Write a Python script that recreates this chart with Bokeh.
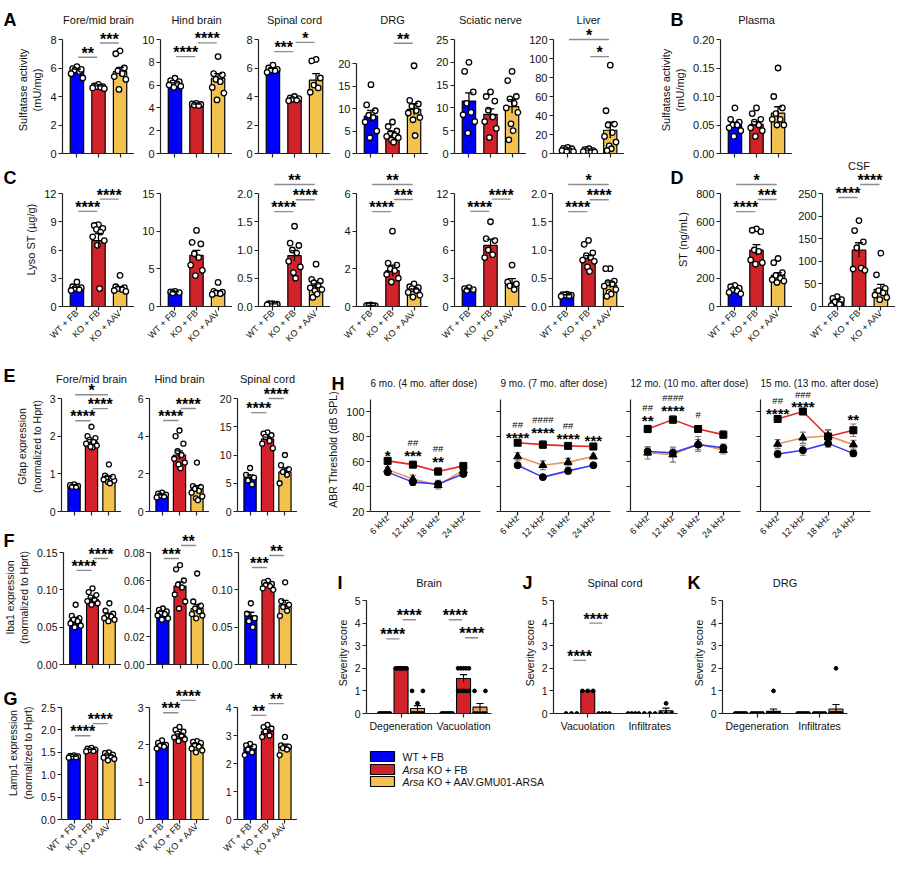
import math
from bokeh.plotting import figure
from bokeh.layouts import row, column
from bokeh.models import Range1d, FixedTicker, Spacer, GridBox
from bokeh.core.properties import value
from bokeh.embed import file_html
from bokeh.resources import INLINE

FONT = "Liberation Sans"
C_WT = "#0000FF"
C_KO = "#D2232A"
C_AAV = "#F2C14E"
C_AAV_SEV = "#E9A064"
C_LINE_WT = "#3A3AF4"
C_LINE_KO = "#E2262B"
C_LINE_AAV = "#E7965C"
INK = "#111111"
BRACKET = "#8c8c8c"

groups = ["WT + FB", "KO + FB", "KO + AAV"]
freq_labels = ["6 kHz", "12 kHz", "18 kHz", "24 kHz"]

# ---------------- A / B : Sulfatase activity (mU/mg) ----------------
sulf_titles = ["Fore/mid brain", "Hind brain", "Spinal cord", "DRG", "Sciatic nerve", "Liver"]
sulf_fore_mean = [5.8, 4.7, 5.75]
sulf_fore_sem = [0.13, 0.05, 0.3]
sulf_fore_pts = [[6.1, 5.95, 5.85, 5.75, 5.6, 5.3, 5.9],
                 [4.85, 4.75, 4.7, 4.7, 4.65, 4.6, 4.55],
                 [7.2, 7.0, 6.0, 5.8, 5.6, 5.4, 5.2, 4.5]]
sulf_fore_sig = [(0, 1, 6.75, "**"), (1, 2, 7.75, "***")]
sulf_fore_ticks = [0, 2, 4, 6, 8]
sulf_fore_tlab = ["0", "2", "4", "6", "8"]

sulf_hind_mean = [6.1, 4.3, 6.6]
sulf_hind_sem = [0.1, 0.04, 0.4]
sulf_hind_pts = [[6.6, 6.4, 6.3, 6.2, 6.1, 6.0, 5.9, 5.8],
                 [4.4, 4.35, 4.3, 4.25, 4.2],
                 [8.5, 7.0, 6.9, 6.5, 6.3, 5.8, 5.3, 4.7]]
sulf_hind_sig = [(0, 1, 8.5, "****"), (1, 2, 9.7, "****")]
sulf_hind_ticks = [0, 2, 4, 6, 8, 10]
sulf_hind_tlab = ["0", "2", "4", "6", "8", "10"]

sulf_spinal_mean = [5.9, 3.85, 5.15]
sulf_spinal_sem = [0.07, 0.05, 0.45]
sulf_spinal_pts = [[6.2, 6.0, 5.9, 5.85, 5.8, 5.7],
                   [4.0, 3.9, 3.85, 3.8, 3.75, 3.7],
                   [6.6, 6.5, 5.3, 4.8, 4.6, 4.3]]
sulf_spinal_sig = [(0, 1, 7.15, "***"), (1, 2, 7.8, "*")]
sulf_spinal_ticks = [0, 2, 4, 6, 8]
sulf_spinal_tlab = ["0", "2", "4", "6", "8"]

sulf_drg_mean = [8.3, 4.3, 9.8]
sulf_drg_sem = [1.3, 0.55, 1.3]
sulf_drg_pts = [[15.3, 10.8, 9.5, 8.5, 7.0, 5.0, 3.5, 8.0],
                [7.0, 6.0, 5.0, 4.5, 4.0, 3.5, 3.0, 2.5, 3.8],
                [19.5, 11.8, 11.0, 10.5, 9.5, 9.0, 8.0, 7.5, 4.0]]
sulf_drg_sig = [(1, 2, 24.5, "**")]
sulf_drg_ticks = [0, 5, 10, 15, 20]
sulf_drg_tlab = ["0", "5", "10", "15", "20"]

sulf_sciatic_mean = [11.5, 8.6, 10.3]
sulf_sciatic_sem = [1.8, 1.2, 1.5]
sulf_sciatic_pts = [[20, 18, 13.5, 11.0, 9.0, 7.0, 4.5, 8.5],
                    [13.5, 12.5, 11.5, 9.5, 8.0, 7.0, 5.5, 3.5],
                    [18, 16, 12.5, 12.0, 11.0, 10.0, 9.0, 6.5, 5.0, 3.0]]
sulf_sciatic_sig = []
sulf_sciatic_ticks = [0, 5, 10, 15, 20, 25]
sulf_sciatic_tlab = ["0", "5", "10", "15", "20", "25"]

sulf_liver_mean = [4.0, 3.0, 24.5]
sulf_liver_sem = [0.7, 0.6, 8.5]
sulf_liver_pts = [[6.5, 5.5, 5, 4, 3, 3, 2, 2],
                  [5, 4, 3, 3, 2, 2, 1.5],
                  [93, 45, 31, 30, 22, 18, 12, 8, 5, 3]]
sulf_liver_sig = [(0, 2, 120, "*"), (1, 2, 102, "*")]
sulf_liver_ticks = [0, 20, 40, 60, 80, 100, 120]
sulf_liver_tlab = ["0", "20", "40", "60", "80", "100", "120"]

plasma_mean = [0.05, 0.051, 0.071]
plasma_sem = [0.005, 0.005, 0.011]
plasma_pts = [[0.08, 0.06, 0.055, 0.05, 0.045, 0.04, 0.03, 0.05],
              [0.08, 0.07, 0.06, 0.05, 0.045, 0.04, 0.03, 0.055],
              [0.15, 0.10, 0.08, 0.07, 0.06, 0.05, 0.05, 0.06]]
plasma_ticks = [0, 0.05, 0.10, 0.15, 0.20]
plasma_tlab = ["0.00", "0.05", "0.10", "0.15", "0.20"]

# ---------------- C / D : Lyso ST (ug/g), ST (ng/mL) ----------------
lyso1_mean = [1.9, 7.0, 1.9]
lyso1_sem = [0.13, 0.75, 0.2]
lyso1_pts = [[2.6, 2.1, 2.0, 1.9, 1.8, 1.7],
             [8.7, 8.6, 8.3, 8.2, 7.9, 7.4, 7.0, 6.5, 1.9],
             [3.3, 2.1, 2.0, 1.9, 1.8, 1.7, 1.6]]
lyso1_sig = [(0, 1, 10.1, "****"), (1, 2, 11.4, "****")]
lyso1_ticks = [0, 3, 6, 9, 12]
lyso1_tlab = ["0", "3", "6", "9", "12"]

lyso2_mean = [1.9, 6.8, 1.9]
lyso2_sem = [0.06, 0.65, 0.2]
lyso2_pts = [[2.0, 1.95, 1.85, 1.8],
             [10.1, 8.5, 8.3, 7.0, 6.5, 5.5, 4.8, 4.1],
             [3.2, 2.0, 1.9, 1.8, 1.7, 1.6]]
lyso2_sig = []
lyso2_ticks = [0, 5, 10, 15]
lyso2_tlab = ["0", "5", "10", "15"]

lyso3_mean = [0.04, 0.9, 0.35]
lyso3_sem = [0.005, 0.09, 0.05]
lyso3_pts = [[0.05, 0.05, 0.04, 0.04, 0.03, 0.03],
             [1.42, 1.12, 1.08, 1.0, 0.95, 0.8, 0.7, 0.6, 0.5],
             [0.75, 0.48, 0.45, 0.42, 0.38, 0.33, 0.3, 0.28, 0.22, 0.16]]
lyso3_sig = [(0, 1, 1.68, "****"), (1, 2, 1.89, "****"), (0, 2, 2.16, "**")]
lyso3_ticks = [0, 0.5, 1.0, 1.5, 2.0]
lyso3_tlab = ["0.0", "0.5", "1.0", "1.5", "2.0"]

lyso4_mean = [0.05, 1.9, 0.85]
lyso4_sem = [0.01, 0.3, 0.08]
lyso4_pts = [[0.08, 0.06, 0.05, 0.04, 0.03],
             [4.0, 2.3, 2.2, 2.0, 1.9, 1.7, 1.5, 1.3],
             [1.2, 1.05, 1.0, 0.95, 0.85, 0.75, 0.6, 0.5]]
lyso4_sig = [(0, 1, 5.04, "****"), (1, 2, 5.68, "***"), (0, 2, 6.48, "**")]
lyso4_ticks = [0, 2, 4, 6]
lyso4_tlab = ["0", "2", "4", "6"]

lyso5_mean = [1.8, 6.5, 2.5]
lyso5_sem = [0.07, 0.65, 0.45]
lyso5_pts = [[2.0, 1.9, 1.8, 1.7],
             [9.0, 7.2, 7.0, 6.0, 5.5, 5.2],
             [4.4, 2.6, 2.4, 2.2, 1.8]]
lyso5_sig = [(0, 1, 10.1, "****"), (1, 2, 11.4, "****")]
lyso5_ticks = [0, 3, 6, 9, 12]
lyso5_tlab = ["0", "3", "6", "9", "12"]

lyso6_mean = [0.2, 0.85, 0.38]
lyso6_sem = [0.008, 0.05, 0.05]
lyso6_pts = [[0.22, 0.21, 0.2, 0.2, 0.19, 0.18],
             [1.17, 1.1, 0.95, 0.9, 0.87, 0.82, 0.8, 0.7, 0.62],
             [0.67, 0.67, 0.45, 0.42, 0.4, 0.36, 0.3, 0.25, 0.22, 0.18]]
lyso6_sig = [(0, 1, 1.68, "****"), (1, 2, 1.89, "****"), (0, 2, 2.16, "*")]
lyso6_ticks = [0, 0.5, 1.0, 1.5, 2.0]
lyso6_tlab = ["0.0", "0.5", "1.0", "1.5", "2.0"]

st_plasma_mean = [120, 400, 220]
st_plasma_sem = [10, 38, 20]
st_plasma_pts = [[150, 140, 130, 120, 110, 100, 90],
                 [550, 540, 530, 400, 390, 330, 310, 300],
                 [340, 310, 240, 220, 200, 190, 180, 170]]
st_plasma_sig = [(0, 1, 672, "****"), (1, 2, 757, "***"), (0, 2, 864, "*")]
st_plasma_ticks = [0, 200, 400, 600, 800]
st_plasma_tlab = ["0", "200", "400", "600", "800"]

st_csf_mean = [12, 125, 38]
st_csf_sem = [4, 16, 11]
st_csf_pts = [[22, 18, 15, 10, 5, 2],
              [190, 168, 143, 130, 85, 83, 80],
              [118, 70, 40, 35, 30, 25, 20, 15]]
st_csf_sig = [(0, 1, 241, "****"), (1, 2, 270, "****")]
st_csf_ticks = [0, 50, 100, 150, 200, 250]
st_csf_tlab = ["0", "50", "100", "150", "200", "250"]

# ---------------- E : Gfap ----------------
tissue_titles = ["Fore/mid brain", "Hind brain", "Spinal cord"]
gfap1_mean = [0.68, 1.85, 0.88]
gfap1_sem = [0.02, 0.06, 0.05]
gfap1_pts = [[0.72, 0.7, 0.68, 0.66, 0.65],
             [2.25, 2.0, 1.95, 1.9, 1.85, 1.8, 1.75, 1.7, 1.72],
             [1.25, 0.95, 0.9, 0.88, 0.85, 0.82, 0.78, 0.75, 0.92]]
gfap1_sig = [(0, 1, 2.41, "****"), (1, 2, 2.73, "****"), (0, 2, 3.1, "*")]
gfap1_ticks = [0, 1, 2, 3]
gfap1_tlab = ["0", "1", "2", "3"]

gfap2_mean = [0.85, 3.0, 1.2]
gfap2_sem = [0.04, 0.22, 0.17]
gfap2_pts = [[1.0, 0.95, 0.9, 0.85, 0.8, 0.75],
             [4.3, 4.0, 3.6, 3.2, 3.0, 2.8, 2.6, 2.3, 2.5],
             [2.6, 1.35, 1.3, 1.2, 1.1, 1.0, 0.8, 0.7, 0.6]]
gfap2_sig = [(0, 1, 4.83, "****"), (1, 2, 5.47, "****")]
gfap2_ticks = [0, 2, 4, 6]
gfap2_tlab = ["0", "2", "4", "6"]

gfap3_mean = [6.0, 12.8, 7.0]
gfap3_sem = [0.5, 0.35, 0.7]
gfap3_pts = [[7.7, 6.5, 6.0, 5.5, 4.8],
             [14.0, 13.8, 13.5, 13.2, 12.5, 12.0, 11.2],
             [10.0, 8.2, 7.5, 7.0, 6.5, 5.0]]
gfap3_sig = [(0, 1, 17.5, "****"), (1, 2, 20.0, "****")]
gfap3_ticks = [0, 5, 10, 15, 20]
gfap3_tlab = ["0", "5", "10", "15", "20"]

# ---------------- F : Iba1 ----------------
iba1_mean = [0.06, 0.087, 0.066]
iba1_sem = [0.003, 0.002, 0.002]
iba1_pts = [[0.08, 0.065, 0.062, 0.06, 0.058, 0.055, 0.052, 0.05],
            [0.102, 0.097, 0.093, 0.09, 0.087, 0.085, 0.082, 0.08],
            [0.082, 0.072, 0.068, 0.066, 0.064, 0.062, 0.06, 0.058]]
iba1_sig = [(0, 1, 0.126, "****"), (1, 2, 0.142, "****")]
iba1_ticks = [0, 0.05, 0.10, 0.15]
iba1_tlab = ["0.00", "0.05", "0.10", "0.15"]

iba2_mean = [0.037, 0.056, 0.04]
iba2_sem = [0.001, 0.003, 0.003]
iba2_pts = [[0.04, 0.039, 0.038, 0.037, 0.036, 0.035, 0.033, 0.032],
            [0.071, 0.068, 0.060, 0.057, 0.055, 0.05, 0.045, 0.04],
            [0.065, 0.045, 0.042, 0.04, 0.038, 0.036, 0.035, 0.033]]
iba2_sig = [(0, 1, 0.0757, "***"), (1, 2, 0.085, "**")]
iba2_ticks = [0, 0.02, 0.04, 0.06, 0.08]
iba2_tlab = ["0.00", "0.02", "0.04", "0.06", "0.08"]

iba3_mean = [0.065, 0.107, 0.08]
iba3_sem = [0.005, 0.002, 0.006]
iba3_pts = [[0.082, 0.068, 0.062, 0.058, 0.05],
            [0.112, 0.11, 0.108, 0.107, 0.105, 0.102, 0.1],
            [0.11, 0.085, 0.08, 0.077, 0.072, 0.065]]
iba3_sig = [(0, 1, 0.13, "***"), (1, 2, 0.146, "**")]
iba3_ticks = [0, 0.05, 0.10, 0.15]
iba3_tlab = ["0.00", "0.05", "0.10", "0.15"]

# ---------------- G : Lamp1 ----------------
lamp1_mean = [1.4, 1.55, 1.42]
lamp1_sem = [0.01, 0.015, 0.02]
lamp1_pts = [[1.43, 1.42, 1.41, 1.40, 1.39, 1.38],
             [1.6, 1.58, 1.56, 1.55, 1.53, 1.52],
             [1.5, 1.48, 1.45, 1.43, 1.4, 1.38, 1.35, 1.32]]
lamp1_sig = [(0, 1, 1.87, "****"), (1, 2, 2.14, "****")]
lamp1_ticks = [0, 0.5, 1.0, 1.5, 2.0, 2.5]
lamp1_tlab = ["0.0", "0.5", "1.0", "1.5", "2.0", "2.5"]

lamp2_mean = [2.0, 2.25, 2.0]
lamp2_sem = [0.03, 0.04, 0.03]
lamp2_pts = [[2.12, 2.05, 2.0, 1.98, 1.95, 1.9],
             [2.48, 2.4, 2.35, 2.3, 2.25, 2.2, 2.15, 2.1],
             [2.1, 2.08, 2.05, 2.0, 1.95, 1.9, 1.85, 1.8]]
lamp2_sig = [(0, 1, 2.86, "***"), (1, 2, 3.19, "****")]
lamp2_ticks = [0, 1, 2, 3]
lamp2_tlab = ["0", "1", "2", "3"]

lamp3_mean = [2.55, 3.15, 2.6]
lamp3_sem = [0.07, 0.07, 0.09]
lamp3_pts = [[2.7, 2.65, 2.6, 2.5, 2.4, 2.3],
             [3.38, 3.3, 3.25, 3.15, 3.0, 2.95],
             [2.95, 2.65, 2.6, 2.55, 2.5, 2.3]]
lamp3_sig = [(0, 1, 3.72, "**"), (1, 2, 4.14, "**")]
lamp3_ticks = [0, 1, 2, 3, 4]
lamp3_tlab = ["0", "1", "2", "3", "4"]

# ---------------- H : ABR threshold (dB SPL) ----------------
abr_titles = ["6 mo. (4 mo. after dose)", "9 mo. (7 mo. after dose)",
              "12 mo. (10 mo. after dose)", "15 mo. (13 mo. after dose)"]
abr_wt = [[51.5, 43.5, 42, 50], [57, 47.5, 52.5, 57], [68, 67, 73.5, 71], [66, 69, 74.5, 66.5]]
abr_wt_sem = [[2, 2.5, 3, 1.5], [1.5, 1.5, 2.5, 1], [3, 3, 4, 3], [3, 4, 3, 2.5]]
abr_ko = [[60.5, 57.5, 52, 56.5], [75, 73.5, 72.5, 72], [86, 93.5, 86, 81.5], [94, 100, 80, 85]]
abr_ko_sem = [[2, 2, 3, 2], [1.5, 3, 2, 1], [3, 3, 2.5, 3], [2, 0.5, 5, 5]]
abr_aav = [[53.5, 46, 41, 53], [64, 57, 59.5, 64], [67, 65.5, 74, 69], [74, 79, 80.5, 73.5]]
abr_aav_sem = [[2, 3, 3, 2], [3, 3.5, 3, 2], [5, 6, 6, 3], [3.5, 4.5, 5, 3.5]]
abr_sig = [
    [(0, 67.5, "*"), (1, 75.5, "##"), (1, 67.5, "***"), (2, 70.5, "##"), (2, 62.5, "**")],
    [(0, 90, "##"), (0, 81.5, "****"), (1, 93.5, "####"), (1, 85.5, "****"), (2, 89, "##"),
     (2, 81, "****"), (3, 79.5, "***")],
    [(0, 103.5, "##"), (0, 95.5, "**"), (1, 111, "####"), (1, 103, "****"), (2, 97.5, "#")],
    [(0, 109, "##"), (0, 101, "****"), (1, 114, "###"), (1, 106.5, "****"), (3, 96, "**")],
]
abr_ticks = [20, 40, 60, 80, 100]
abr_tlab = ["20", "40", "60", "80", "100"]

# ---------------- I / J / K : Severity score ----------------
sev_titles = ["Brain", "Spinal cord", "DRG"]
sev_ticks = [0, 1, 2, 3, 4, 5]
sev_tlab = ["0", "1", "2", "3", "4", "5"]
brain_groups = ["Degeneration", "Vacuolation"]
brain_mean = [0, 2.0, 0.22, 0, 1.55, 0.28]
brain_sem = [0, 0, 0.13, 0, 0.17, 0.16]
brain_pts = [[0] * 8, [2] * 8, [1, 1, 0.45, 0, 0, 0, 0, 0, 0],
             [0] * 8, [2, 2, 2, 2, 2, 1, 1, 1, 1, 1], [1, 1, 0, 0, 0, 0, 0]]
brain_sig = [(0, 1, 3.3, "****"), (1, 2, 4.15, "****"), (3, 4, 4.15, "****"), (4, 5, 3.35, "****")]

cord_groups = ["Vacuolation", "Infiltrates"]
cord_mean = [0, 1.0, 0, 0, 0, 0.12]
cord_sem = [0, 0, 0, 0, 0, 0.12]
cord_pts = [[0] * 3, [1] * 3, [0] * 4, [0] * 4, [0] * 3, [0.45, 0, 0, 0]]
cord_sig = [(0, 1, 2.35, "****"), (1, 2, 4.0, "****")]

drg_groups = ["Degeneration", "Infiltrates"]
drg_mean = [0, 0, 0.1, 0, 0, 0.2]
drg_sem = [0, 0, 0.1, 0, 0, 0.2]
drg_pts = [[0] * 7, [0] * 6, [1, 0, 0, 0, 0, 0, 0, 0, 0, 0],
           [0] * 7, [0] * 6, [2, 0, 0, 0, 0, 0, 0, 0, 0, 0]]
drg_sig = []

legend_italic = ["", "Arsa", "Arsa"]
legend_text = ["WT + FB", "KO + FB", "KO + AAV.GMU01-ARSA"]
panel_letters = ["A", "B", "C", "D", "E", "F", "G", "H", "I", "J", "K"]


# ======================================================================
def make_fig(w, h, mbl, mbr, mbt, mbb, xr, yr):
    p = figure(width=w, height=h, x_range=Range1d(xr[0], xr[1]), y_range=Range1d(yr[0], yr[1]),
               output_backend="svg", toolbar_location=None, tools="",
               min_border_left=mbl, min_border_right=mbr, min_border_top=mbt, min_border_bottom=mbb)
    p.xgrid.visible = False
    p.ygrid.visible = False
    p.outline_line_color = None
    p.background_fill_color = "white"
    p.border_fill_color = "white"
    return p


def style_axis(ax, fs):
    ax.axis_line_color = "#222222"
    ax.axis_line_width = 1.2
    ax.major_tick_line_color = "#222222"
    ax.major_tick_line_width = 1.2
    ax.major_tick_in = 0
    ax.major_tick_out = 4
    ax.minor_tick_line_color = None
    ax.major_label_text_font = FONT
    ax.major_label_text_font_size = fs
    ax.major_label_text_color = INK
    ax.major_label_standoff = 2
    ax.axis_label_text_font = FONT
    ax.axis_label_text_font_style = "normal"
    ax.axis_label_text_font_size = fs
    ax.axis_label_text_color = INK
    ax.axis_label_standoff = 4


def hide_labels(ax, ticks):
    ax.major_label_overrides = {t: "" for t in ticks}
    ax.major_label_text_font_size = "0px"
    ax.major_label_standoff = 0


def spread(vals):
    pattern = [0.0, -0.2, 0.2, -0.1, 0.1, -0.27, 0.27, -0.05, 0.05, -0.15, 0.15]
    order = sorted(range(len(vals)), key=lambda i: -vals[i])
    offs = [0.0] * len(vals)
    for r, i in enumerate(order):
        offs[i] = pattern[r % len(pattern)]
    return offs


def row_spread(vals, half):
    idx_by_val = {}
    for i, v in enumerate(vals):
        idx_by_val.setdefault(v, []).append(i)
    offs = [0.0] * len(vals)
    for v, idx in idx_by_val.items():
        n = len(idx)
        for k, i in enumerate(idx):
            offs[i] = 0.0 if n == 1 else -half + 2 * half * k / (n - 1)
    return offs


def add_sig(p, xs0, xs1, ys, texts, gap):
    if not ys:
        return
    p.segment(x0=[a + gap for a in xs0], y0=ys, x1=[b - gap for b in xs1], y1=ys,
              line_color=BRACKET, line_width=1.4)
    p.text(x=[(a + b) / 2 for a, b in zip(xs0, xs1)], y=ys, text=texts,
           text_align="center", text_baseline="alphabetic", y_offset=-4,
           text_font=value(FONT), text_font_size="16px", text_font_style="bold",
           text_color="black")


ROW_A = dict(h=160, mbt=26, mbb=7, span=114, xr=(-0.67, 2.67), bw=0.62, ps=5.5, fs="11px", cap=0.18)
ROW_C = dict(h=192, mbt=12, mbb=46, span=113, xr=(-0.67, 2.67), bw=0.62, ps=5.5, fs="11px", cap=0.18)
ROW_E = dict(h=166, mbt=29, mbb=7, span=113, xr=(-0.72, 2.72), bw=0.7, ps=5, fs="10.5px", cap=0.2)
ROW_F = dict(h=153, mbt=12, mbb=7, span=112, xr=(-0.72, 2.72), bw=0.7, ps=5, fs="10.5px", cap=0.2)
ROW_G = dict(h=200, mbt=15, mbb=52, span=112, xr=(-0.72, 2.72), bw=0.7, ps=5, fs="10.5px", cap=0.2)


def bar_panel(w, mbl, R, ticks, tlab, means, sems, pts, sig, ylabel=None, span=None, xlabels=None):
    fh = R["h"] - R["mbt"] - R["mbb"]
    sp = span if span else R["span"]
    y_end = ticks[-1] * fh / sp
    p = make_fig(w, R["h"], mbl, 0, R["mbt"], R["mbb"], R["xr"], (0, y_end))
    xs = [0, 1, 2]
    p.vbar(x=xs, top=means, width=R["bw"], bottom=0, fill_color=[C_WT, C_KO, C_AAV],
           line_color="black", line_width=1.2)
    px, py = [], []
    scale = R["bw"] / 0.62
    for i, vals in enumerate(pts):
        for o, v in zip(spread(vals), vals):
            px.append(i + o * scale)
            py.append(v)
    p.scatter(x=px, y=py, size=R["ps"], fill_color="white", line_color="black", line_width=1.3)
    lo = [m - s for m, s in zip(means, sems)]
    hi = [m + s for m, s in zip(means, sems)]
    c = R["cap"]
    p.segment(x0=xs, y0=lo, x1=xs, y1=hi, line_color="black", line_width=1.3)
    p.segment(x0=[x - c for x in xs], y0=hi, x1=[x + c for x in xs], y1=hi,
              line_color="black", line_width=1.3)
    add_sig(p, [s[0] for s in sig], [s[1] for s in sig], [s[2] for s in sig],
            [s[3] for s in sig], 0.06)
    ya = p.yaxis[0]
    xa = p.xaxis[0]
    style_axis(ya, R["fs"])
    style_axis(xa, R["fs"])
    ya.ticker = FixedTicker(ticks=ticks)
    ya.bounds = (0, ticks[-1])
    ya.major_label_overrides = dict(zip(ticks, tlab))
    if ylabel:
        ya.axis_label = ylabel
    xa.ticker = FixedTicker(ticks=xs)
    if xlabels:
        xa.major_label_overrides = dict(zip(xs, xlabels))
        xa.major_label_orientation = math.pi / 4
        xa.major_label_text_font_size = "9px"
        xa.major_label_standoff = 1
    else:
        hide_labels(xa, xs)
    return p


# ---------------- Row A / B ----------------
sulf_label = "Sulfatase activity\n(mU/mg)"
A1 = bar_panel(134, 62, ROW_A, sulf_fore_ticks, sulf_fore_tlab, sulf_fore_mean, sulf_fore_sem,
               sulf_fore_pts, sulf_fore_sig, ylabel=sulf_label)
A2 = bar_panel(98, 26, ROW_A, sulf_hind_ticks, sulf_hind_tlab, sulf_hind_mean, sulf_hind_sem,
               sulf_hind_pts, sulf_hind_sig)
A3 = bar_panel(98, 26, ROW_A, sulf_spinal_ticks, sulf_spinal_tlab, sulf_spinal_mean, sulf_spinal_sem,
               sulf_spinal_pts, sulf_spinal_sig)
A4 = bar_panel(98, 26, ROW_A, sulf_drg_ticks, sulf_drg_tlab, sulf_drg_mean, sulf_drg_sem,
               sulf_drg_pts, sulf_drg_sig, span=90)
A5 = bar_panel(98, 26, ROW_A, sulf_sciatic_ticks, sulf_sciatic_tlab, sulf_sciatic_mean,
               sulf_sciatic_sem, sulf_sciatic_pts, sulf_sciatic_sig)
A6 = bar_panel(98, 26, ROW_A, sulf_liver_ticks, sulf_liver_tlab, sulf_liver_mean, sulf_liver_sem,
               sulf_liver_pts, sulf_liver_sig)
B1 = bar_panel(168, 96, ROW_A, plasma_ticks, plasma_tlab, plasma_mean, plasma_sem, plasma_pts, [],
               ylabel=sulf_label)

# ---------------- Row C / D ----------------
C1 = bar_panel(134, 62, ROW_C, lyso1_ticks, lyso1_tlab, lyso1_mean, lyso1_sem, lyso1_pts, lyso1_sig,
               ylabel="Lyso ST (µg/g)", xlabels=groups)
C2 = bar_panel(98, 26, ROW_C, lyso2_ticks, lyso2_tlab, lyso2_mean, lyso2_sem, lyso2_pts, lyso2_sig,
               xlabels=groups)
C3 = bar_panel(98, 26, ROW_C, lyso3_ticks, lyso3_tlab, lyso3_mean, lyso3_sem, lyso3_pts, lyso3_sig,
               xlabels=groups)
C4 = bar_panel(98, 26, ROW_C, lyso4_ticks, lyso4_tlab, lyso4_mean, lyso4_sem, lyso4_pts, lyso4_sig,
               xlabels=groups)
C5 = bar_panel(98, 26, ROW_C, lyso5_ticks, lyso5_tlab, lyso5_mean, lyso5_sem, lyso5_pts, lyso5_sig,
               xlabels=groups)
C6 = bar_panel(98, 26, ROW_C, lyso6_ticks, lyso6_tlab, lyso6_mean, lyso6_sem, lyso6_pts, lyso6_sig,
               xlabels=groups)
D1 = bar_panel(168, 96, ROW_C, st_plasma_ticks, st_plasma_tlab, st_plasma_mean, st_plasma_sem,
               st_plasma_pts, st_plasma_sig, ylabel="ST (ng/mL)", xlabels=groups)
D2 = bar_panel(103, 30, ROW_C, st_csf_ticks, st_csf_tlab, st_csf_mean, st_csf_sem, st_csf_pts,
               st_csf_sig, xlabels=groups)

# ---------------- Rows E / F / G ----------------
E1 = bar_panel(121, 61, ROW_E, gfap1_ticks, gfap1_tlab, gfap1_mean, gfap1_sem, gfap1_pts, gfap1_sig,
               ylabel="Gfap expression\n(normalized to Hprt)")
E2 = bar_panel(88, 28, ROW_E, gfap2_ticks, gfap2_tlab, gfap2_mean, gfap2_sem, gfap2_pts, gfap2_sig)
E3 = bar_panel(88, 28, ROW_E, gfap3_ticks, gfap3_tlab, gfap3_mean, gfap3_sem, gfap3_pts, gfap3_sig)

F1 = bar_panel(121, 61, ROW_F, iba1_ticks, iba1_tlab, iba1_mean, iba1_sem, iba1_pts, iba1_sig,
               ylabel="Iba1 expression\n(normalized to Hprt)")
F2 = bar_panel(88, 28, ROW_F, iba2_ticks, iba2_tlab, iba2_mean, iba2_sem, iba2_pts, iba2_sig)
F3 = bar_panel(88, 28, ROW_F, iba3_ticks, iba3_tlab, iba3_mean, iba3_sem, iba3_pts, iba3_sig)

G1 = bar_panel(121, 61, ROW_G, lamp1_ticks, lamp1_tlab, lamp1_mean, lamp1_sem, lamp1_pts, lamp1_sig,
               ylabel="Lamp1 expression\n(normalized to Hprt)", xlabels=groups)
G2 = bar_panel(88, 28, ROW_G, lamp2_ticks, lamp2_tlab, lamp2_mean, lamp2_sem, lamp2_pts, lamp2_sig,
               xlabels=groups)
G3 = bar_panel(88, 28, ROW_G, lamp3_ticks, lamp3_tlab, lamp3_mean, lamp3_sem, lamp3_pts, lamp3_sig,
               xlabels=groups)


# ---------------- H ----------------
def abr_panel(k, w, mbl, mbr, first):
    h, mbt, mbb = 196, 35, 37
    fh = h - mbt - mbb
    p = make_fig(w, h, mbl, mbr, mbt, mbb, (-0.68, 3.68), (20, 20 + fh / 1.25))
    xs = [0, 1, 2, 3]
    series = [(abr_aav[k], abr_aav_sem[k], C_LINE_AAV, "triangle", 8),
              (abr_wt[k], abr_wt_sem[k], C_LINE_WT, "circle", 7),
              (abr_ko[k], abr_ko_sem[k], C_LINE_KO, "square", 7)]
    for vals, sems, col, mk, ms in series:
        p.line(x=xs, y=vals, line_color=col, line_width=1.6)
    for vals, sems, col, mk, ms in series:
        lo = [v - s for v, s in zip(vals, sems)]
        hi = [v + s for v, s in zip(vals, sems)]
        p.segment(x0=xs, y0=lo, x1=xs, y1=hi, line_color="#7a7a7a", line_width=1.2)
        p.segment(x0=[x - 0.12 for x in xs], y0=hi, x1=[x + 0.12 for x in xs], y1=hi,
                  line_color="#7a7a7a", line_width=1.2)
        p.segment(x0=[x - 0.12 for x in xs], y0=lo, x1=[x + 0.12 for x in xs], y1=lo,
                  line_color="#7a7a7a", line_width=1.2)
    for vals, sems, col, mk, ms in series:
        p.scatter(x=xs, y=vals, marker=mk, size=ms, fill_color="black", line_color="black")
    stars = [a for a in abr_sig[k] if not a[2].startswith("#")]
    hashes = [a for a in abr_sig[k] if a[2].startswith("#")]
    if stars:
        p.text(x=[a[0] for a in stars], y=[a[1] for a in stars], text=[a[2] for a in stars],
               text_align="center", text_baseline="alphabetic", y_offset=3,
               text_font=value(FONT), text_font_size="15px", text_font_style="bold",
               text_color="black")
    if hashes:
        p.text(x=[a[0] for a in hashes], y=[a[1] for a in hashes], text=[a[2] for a in hashes],
               text_align="center", text_baseline="alphabetic", y_offset=0,
               text_font=value(FONT), text_font_size="9.5px", text_color="black")
    ya = p.yaxis[0]
    xa = p.xaxis[0]
    style_axis(ya, "11px")
    style_axis(xa, "11px")
    ya.ticker = FixedTicker(ticks=abr_ticks)
    ya.bounds = (20, 110)
    if first:
        ya.major_label_overrides = dict(zip(abr_ticks, abr_tlab))
        ya.axis_label = "ABR Threshold (dB SPL)"
        ya.axis_label_text_font_size = "10.5px"
    else:
        hide_labels(ya, abr_ticks)
    xa.ticker = FixedTicker(ticks=xs)
    xa.major_label_overrides = dict(zip(xs, freq_labels))
    xa.major_label_orientation = math.pi / 4
    xa.major_label_text_font_size = "9px"
    xa.major_label_standoff = 1
    return p


H1 = abr_panel(0, 190, 70, 10, True)
H2 = abr_panel(1, 130, 10, 10, False)
H3 = abr_panel(2, 130, 10, 10, False)
H4 = abr_panel(3, 150, 10, 30, False)


# ---------------- I / J / K ----------------
def sev_panel(w, mbl, mbr, means, sems, pts, sig, glabels):
    h, mbt, mbb = 192, 44, 27
    fh = h - mbt - mbb
    p = make_fig(w, h, mbl, mbr, mbt, mbb, (-1.1, 6.5), (0, fh / 22.6))
    xs = [0, 1, 2, 3.8, 4.8, 5.8]
    p.vbar(x=xs, top=means, width=0.85, bottom=0, fill_color=[C_WT, C_KO, C_AAV_SEV] * 2,
           line_color="black", line_width=1.1)
    px, py = [], []
    for i, vals in enumerate(pts):
        for o, v in zip(row_spread(vals, 0.33), vals):
            px.append(xs[i] + o)
            py.append(v)
    p.scatter(x=px, y=py, size=3.8, fill_color="black", line_color="black")
    ex = [x for x, s in zip(xs, sems) if s > 0]
    em = [m for m, s in zip(means, sems) if s > 0]
    es = [s for s in sems if s > 0]
    if ex:
        lo = [m - s for m, s in zip(em, es)]
        hi = [m + s for m, s in zip(em, es)]
        p.segment(x0=ex, y0=lo, x1=ex, y1=hi, line_color="black", line_width=1.1)
        p.segment(x0=[x - 0.22 for x in ex], y0=hi, x1=[x + 0.22 for x in ex], y1=hi,
                  line_color="black", line_width=1.1)
    add_sig(p, [xs[s[0]] for s in sig], [xs[s[1]] for s in sig], [s[2] for s in sig],
            [s[3] for s in sig], 0.1)
    ya = p.yaxis[0]
    xa = p.xaxis[0]
    style_axis(ya, "10.5px")
    style_axis(xa, "10.5px")
    ya.ticker = FixedTicker(ticks=sev_ticks)
    ya.bounds = (0, 5)
    ya.major_label_overrides = dict(zip(sev_ticks, sev_tlab))
    ya.axis_label = "Severity score"
    ya.axis_label_standoff = 3
    gx = [1, 4.8]
    xa.ticker = FixedTicker(ticks=gx)
    xa.major_label_overrides = dict(zip(gx, glabels))
    return p


I1 = sev_panel(220, 66, 29, brain_mean, brain_sem, brain_pts, brain_sig, brain_groups)
J1 = sev_panel(160, 32, 3, cord_mean, cord_sem, cord_pts, cord_sig, cord_groups)
K1 = sev_panel(220, 42, 53, drg_mean, drg_sem, drg_pts, drg_sig, drg_groups)

# ---------------- Legend ----------------
lg = figure(width=600, height=131, x_range=Range1d(0, 600), y_range=Range1d(131, 0),
            x_axis_type=None, y_axis_type=None, output_backend="svg", toolbar_location=None,
            tools="", min_border=0)
lg.outline_line_color = None
lg.xgrid.visible = False
lg.ygrid.visible = False
leg_y = [16, 29, 41]
lg.rect(x=[82, 82, 82], y=leg_y, width=24, height=10, fill_color=[C_WT, C_KO, C_AAV],
        line_color="black", line_width=1.2)
it_y = [y for y, t in zip(leg_y, legend_italic) if t]
lg.text(x=[102] * len(it_y), y=it_y, text=[t for t in legend_italic if t], text_align="left",
        text_baseline="middle", text_font=value(FONT), text_font_size="10.5px",
        text_font_style="italic", text_color=INK)
lg.text(x=[102 if not t else 126.5 for t in legend_italic], y=leg_y, text=legend_text,
        text_align="left", text_baseline="middle", text_font=value(FONT),
        text_font_size="10.5px", text_color=INK)

# ---------------- Overlay with panel letters and titles ----------------
ov = figure(width=900, height=871, x_range=Range1d(0, 900), y_range=Range1d(871, 0),
            x_axis_type=None, y_axis_type=None, output_backend="svg", toolbar_location=None,
            tools="", min_border=0)
ov.outline_line_color = None
ov.background_fill_color = None
ov.border_fill_color = None
ov.xgrid.visible = False
ov.ygrid.visible = False

letter_xy = [(3, 19), (670, 19), (3, 177), (670, 177), (3, 375), (3, 540), (3, 698),
             (331, 383), (337, 582), (522, 582), (687, 582)]
ov.text(x=[a[0] for a in letter_xy], y=[a[1] for a in letter_xy], text=panel_letters,
        text_align="left", text_baseline="middle", text_font=value(FONT),
        text_font_size="18px", text_font_style="bold", text_color="black")

center_titles = sulf_titles + ["Plasma", "CSF"] + tissue_titles + sev_titles
center_xy = [(98, 19), (196, 19), (294, 19), (392, 19), (490, 19), (588, 19), (756, 19),
             (858.5, 165), (91, 378), (179, 378), (267, 378),
             (428.5, 582), (614.5, 582), (784.5, 582)]
ov.text(x=[a[0] for a in center_xy], y=[a[1] for a in center_xy], text=center_titles,
        text_align="center", text_baseline="middle", text_font=value(FONT),
        text_font_size="11px", text_color=INK)
abr_title_x = [370, 500, 630, 760]
ov.text(x=abr_title_x, y=[383] * 4, text=abr_titles, text_align="left", text_baseline="middle",
        text_font=value(FONT), text_font_size="10px", text_color=INK)

# ---------------- Assemble ----------------
rowA = row(A1, A2, A3, A4, A5, A6, B1, Spacer(width=108, height=160))
rowC = row(C1, C2, C3, C4, C5, C6, D1, D2, Spacer(width=5, height=192))
left = column(row(E1, E2, E3, Spacer(width=3, height=166)),
              row(F1, F2, F3, Spacer(width=3, height=153)),
              row(G1, G2, G3, Spacer(width=3, height=200)))
right = column(row(H1, H2, H3, H4), row(I1, J1, K1), lg)
page = column(rowA, rowC, row(left, right))
root = GridBox(children=[(page, 0, 0), (ov, 0, 0)])

open("out.html", "w").write(file_html(root, INLINE, title="Figure"))
